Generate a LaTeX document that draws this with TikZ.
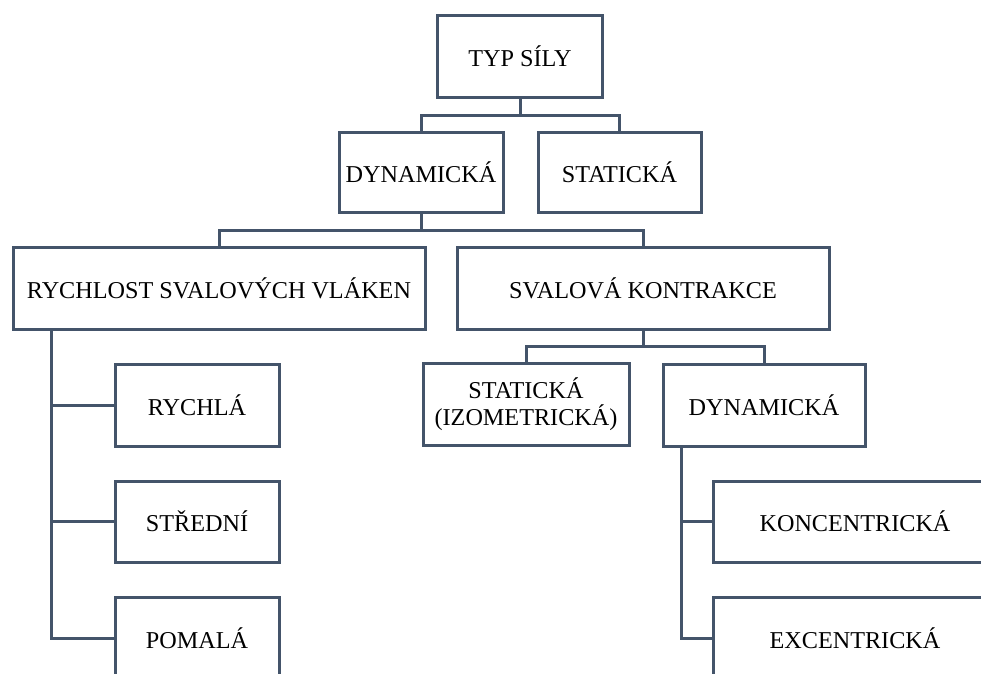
\documentclass[tikz,border=0pt]{standalone}
\usepackage{fontspec}
\setmainfont{Liberation Serif}
\definecolor{linka}{HTML}{44546A}
\tikzset{
  krabice/.style={draw=linka,line width=3pt,fill=white,align=center,
    inner sep=0pt,minimum height=82pt,font=\fontsize{24.2}{26.5}\selectfont},
  spoj/.style={draw=linka,line width=3pt}
}
\begin{document}
\begin{tikzpicture}
           [x=1pt,y=-1pt]
           \useasboundingbox (0,0) rectangle (981,673);
           \clip (0,0) rectangle (981,673);

           \node[krabice,minimum width=165pt] (sila) at (520,56) {TYP SÍLY};

           \node[krabice,minimum width=164pt,minimum height=80pt] (dyn) at (421,172) {DYNAMICKÁ};
           \node[krabice,minimum width=163pt,minimum height=80pt] (stat) at (619.5,172) {STATICKÁ};

           \node[krabice,minimum width=412pt] (rychlost) at (219,288) {RYCHLOST SVALOVÝCH VLÁKEN};
           \node[krabice,minimum width=372pt] (kontrakce) at (643,288) {SVALOVÁ KONTRAKCE};

           \node[krabice,minimum width=206pt] (izo) at (526,404) {STATICKÁ\\(IZOMETRICKÁ)};
           \node[krabice,minimum width=202pt] (dyn2) at (764,405) {DYNAMICKÁ};

           \node[krabice,minimum width=164pt] (rychla) at (197,405) {RYCHLÁ};
           \node[krabice,minimum width=164pt,minimum height=81pt] (stredni) at (197,521.5) {STŘEDNÍ};
           \node[krabice,minimum width=164pt] (pomala) at (197,638) {POMALÁ};

           \node[krabice,minimum width=284pt,minimum height=81pt] (konc) at (855,521.5) {KONCENTRICKÁ};
           \node[krabice,minimum width=284pt] (exc) at (855,638) {EXCENTRICKÁ};

           \coordinate (j1) at (520,115);
           \coordinate (j2) at (421,230);
           \coordinate (j3) at (643,346);

           \draw[spoj] (sila) -- (j1);
           \draw[spoj] (dyn.north) |- (j1) -| (stat.north);

           \draw[spoj] (dyn) -- (j2);
           \draw[spoj] (rychlost.north) |- (j2) -| (kontrakce.north);

           \draw[spoj] (kontrakce) -- (j3);
           \draw[spoj] (izo.north) |- (j3) -| (dyn2.north);

           \foreach \n in {rychla,stredni,pomala}
             \draw[spoj] ([xshift=40pt]rychlost.south west) |- (\n.west);
           \foreach \n in {konc,exc}
             \draw[spoj] ([xshift=20pt]dyn2.south west) |- (\n.west);
         \end{tikzpicture}
\end{document}
